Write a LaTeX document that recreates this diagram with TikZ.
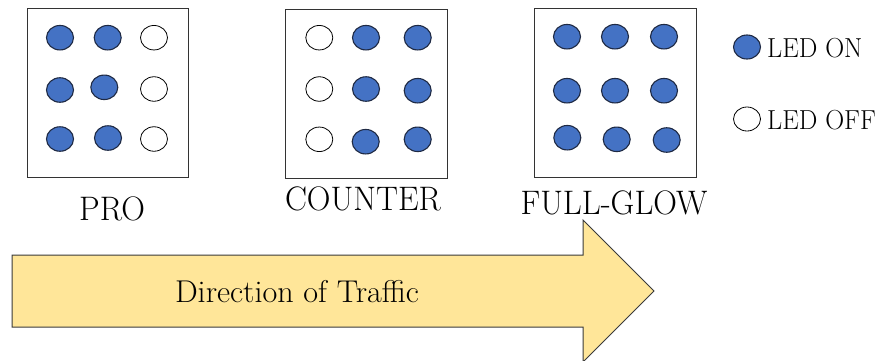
\documentclass[tikz,border=0pt]{standalone}
\usetikzlibrary{shapes.geometric}
\definecolor{ledblue}{HTML}{4472C4}
\definecolor{ledline}{HTML}{1F2A44}
\definecolor{arrowfill}{HTML}{FFE699}
\definecolor{arrowline}{HTML}{3A3A3A}
\tikzset{
  panel/.style={draw=black!80, line width=0.9pt, fill=white},
  ledon/.style={ellipse, draw=ledline, line width=1.1pt, fill=ledblue, minimum width=27pt, minimum height=24.5pt, inner sep=0pt},
  ledoff/.style={ellipse, draw=black, line width=0.8pt, fill=white, minimum width=27pt, minimum height=24.5pt, inner sep=0pt},
  lbl/.style={font=\rmfamily\fontsize{34}{40}\selectfont, inner sep=0pt, xscale=0.965},
  legtxt/.style={font=\rmfamily\fontsize{27.5}{32}\selectfont, inner sep=0pt, anchor=west, xscale=0.955},
  bigarrow/.style={draw=arrowline, line width=1pt, fill=arrowfill, line join=miter}
}
\begin{document}
\begin{tikzpicture}[x=1pt, y=-1pt]
\useasboundingbox (0,0) rectangle (877,360);
% panels
\node[panel, minimum width=161pt, minimum height=169pt, inner sep=0pt] (p1) at (107.5,92.5) {};
\node[panel, minimum width=162pt, minimum height=169pt, inner sep=0pt] (p2) at (366,93.5) {};
\node[panel, minimum width=162pt, minimum height=169pt, inner sep=0pt] (p3) at (615,92.5) {};
% PRO dots
\node[ledon]  (a11) at (60,37.7) {};
\node[ledon]  (a12) at (107.7,37.7) {};
\node[ledoff] (a13) at (154,37.7) {};
\node[ledon]  (a21) at (60,90) {};
\node[ledon]  (a22) at (104.3,87.3) {};
\node[ledoff] (a23) at (154,89) {};
\node[ledon]  (a31) at (60,139) {};
\node[ledon]  (a32) at (108,138) {};
\node[ledoff] (a33) at (154,139) {};
% COUNTER dots
\node[ledoff] (b11) at (319.3,37.7) {};
\node[ledon]  (b12) at (366,37.7) {};
\node[ledon]  (b13) at (417.7,37.7) {};
\node[ledoff] (b21) at (319.3,89) {};
\node[ledon]  (b22) at (366,89) {};
\node[ledon]  (b23) at (417.7,90.7) {};
\node[ledoff] (b31) at (319.3,139.3) {};
\node[ledon]  (b32) at (365.7,141.7) {};
\node[ledon]  (b33) at (417.7,139.3) {};
% FULL-GLOW dots
\node[ledon] (c11) at (567,36.7) {};
\node[ledon] (c12) at (615,36.7) {};
\node[ledon] (c13) at (664,36.7) {};
\node[ledon] (c21) at (567,90.7) {};
\node[ledon] (c22) at (615,90.7) {};
\node[ledon] (c23) at (664,90.7) {};
\node[ledon] (c31) at (567.3,137.7) {};
\node[ledon] (c32) at (616.7,139.3) {};
\node[ledon] (c33) at (666.7,140) {};
% labels
\node[lbl] (l1) at (112,209) {PRO};
\node[lbl] (l2) at (363,199) {COUNTER};
\node[lbl] (l3) at (614,203) {FULL-GLOW};
% legend
\node[ledon, minimum width=27pt, minimum height=24pt] (gon) at (747,47) {};
\node[legtxt] (ton) at (767,48) {LED ON};
\node[ledoff, minimum width=27pt, minimum height=24pt] (goff) at (747,119) {};
\node[legtxt] (toff) at (767,120) {LED OFF};
% arrow
\draw[bigarrow] (12,255) -- (583,255) -- (583,220) -- (654,291) -- (583,362) -- (583,327) -- (12,327) -- cycle;
\node[font=\rmfamily\fontsize{31.5}{37}\selectfont, inner sep=0pt, xscale=1.02] (dir) at (297,292) {Direction of Traffic};
\end{tikzpicture}
\end{document}
